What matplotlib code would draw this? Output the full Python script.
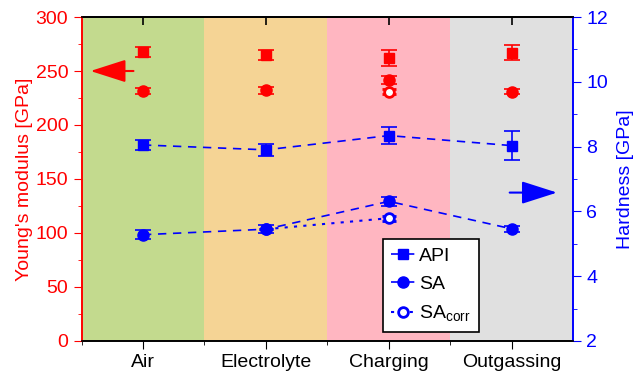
import numpy as np
import matplotlib
matplotlib.use("Agg")
from matplotlib import pyplot as plt
from matplotlib.ticker import MultipleLocator

plt.rcParams['font.family'] = ['Liberation Sans', 'DejaVu Sans']
plt.rcParams['mathtext.fontset'] = 'custom'
plt.rcParams['mathtext.rm'] = 'Liberation Sans'

stages = ["Air", "Electrolyte", "Charging", "Outgassing"]
stage_colors = ["#c3da8e", "#f5d495", "#ffb6c1", "#e0e0e0"]

# Young's modulus [GPa]
E_api = [268, 265, 262, 267]
E_api_err = [4.6, 4.6, 7.5, 7.0]
E_sa = [231.5, 232, 241.5, 231]
E_sa_err = [2.7, 3.0, 4.0, 2.7]
E_corr = [np.nan, np.nan, 231, np.nan]
E_corr_err = [0, 0, 2, 0]

# Hardness [GPa]
H_api = [8.05, 7.9, 8.34, 8.03]
H_api_err = [0.14, 0.18, 0.26, 0.44]
H_sa = [5.28, 5.45, 6.31, 5.46]
H_sa_err = [0.14, 0.12, 0.13, 0.10]
H_corr = [np.nan, 5.45, 5.79, np.nan]
H_corr_err = [0, 0, 0.08, 0]

x = np.arange(1, len(stages) + 1)
red = "#ff0000"
blue = "#0000ff"

fig = plt.figure(figsize=(6.37, 3.78), dpi=100)
ax = fig.add_axes([0.128, 0.098, 0.772, 0.857])
ax2 = ax.twinx()

# shaded background for each stage
for i, c in enumerate(stage_colors):
    ax.axvspan(x[i] - 0.5, x[i] + 0.5, color=c, lw=0, zorder=0)

ax.errorbar(x, E_corr, yerr=E_corr_err, fmt='o', color=red, mfc='white',
            mec=red, mew=2, ms=7, capsize=5, elinewidth=1.2, zorder=2)
ax.errorbar(x, E_api, yerr=E_api_err, fmt='s', color=red, ms=7.5,
            capsize=6, elinewidth=1.2, capthick=1.2, zorder=3)
ax.errorbar(x, E_sa, yerr=E_sa_err, fmt='o', color=red, ms=8,
            capsize=6, elinewidth=1.2, capthick=1.2, zorder=3)

corr = ax2.errorbar(x, H_corr, yerr=H_corr_err, fmt='o', ls=(0, (1.5, 3)), lw=1.5,
                    color=blue, mfc='white', mec=blue, mew=2, ms=7,
                    capsize=5, elinewidth=1.2, zorder=1)
api = ax2.errorbar(x, H_api, yerr=H_api_err, fmt='s', ls=(0, (5, 4)), lw=1.2,
                   color=blue, ms=7.5, capsize=6, elinewidth=1.2, capthick=1.2,
                   zorder=2)
sa = ax2.errorbar(x, H_sa, yerr=H_sa_err, fmt='o', ls=(0, (5, 4)), lw=1.2,
                  color=blue, ms=8, capsize=6, elinewidth=1.2, capthick=1.2,
                  zorder=2)

# arrows pointing to the matching axis
ax.annotate("", xy=(0.55, 250), xytext=(0.945, 250),
            arrowprops=dict(arrowstyle="-|>,head_length=1.0,head_width=0.32",
                            color=red, lw=1.5, mutation_scale=22))
ax2.annotate("", xy=(4.39, 6.58), xytext=(3.96, 6.58),
             arrowprops=dict(arrowstyle="-|>,head_length=1.0,head_width=0.32",
                             color=blue, lw=1.5, mutation_scale=22))

ax.set_xlim(0.5, 4.5)
ax.set_ylim(0, 300)
ax2.set_ylim(2, 12)

ax.set_xticks(x)
ax.set_xticklabels(stages, fontsize=14)
ax.set_xticks(x - 0.5, minor=True)
ax.tick_params(axis='x', which='major', direction='out', length=6)
ax.tick_params(axis='x', which='minor', direction='out', length=3)

# inward ticks along the top edge
top = ax.secondary_xaxis('top')
top.set_xticks(x)
top.set_xticklabels([])
top.tick_params(direction='in', length=6, width=1.2)
top.spines['top'].set_linewidth(1.2)

ax.yaxis.set_major_locator(MultipleLocator(50))
ax.yaxis.set_minor_locator(MultipleLocator(25))
ax.tick_params(axis='y', which='both', colors=red, labelsize=14)
ax.tick_params(axis='y', which='major', length=6)
ax.tick_params(axis='y', which='minor', length=3)
ax.set_ylabel("Young's modulus [GPa]", color=red, fontsize=14, labelpad=2)

ax2.yaxis.set_major_locator(MultipleLocator(2))
ax2.yaxis.set_minor_locator(MultipleLocator(1))
ax2.tick_params(axis='y', which='both', colors=blue, labelsize=14)
ax2.tick_params(axis='y', which='major', length=6)
ax2.tick_params(axis='y', which='minor', length=3)
ax2.set_ylabel("Hardness [GPa]", color=blue, fontsize=14, labelpad=6)

for a in (ax, ax2):
    a.spines['left'].set_color(red)
    a.spines['right'].set_color(blue)
    for s in a.spines.values():
        s.set_linewidth(1.2)

leg = ax2.legend([api[0], sa[0], corr[0]], ["API", "SA", r"SA$_{\mathrm{corr}}$"],
                 loc='lower left', bbox_to_anchor=(0.614, 0.028), borderaxespad=0,
                 fontsize=14, numpoints=1, handlelength=1.2, handletextpad=0.25,
                 borderpad=0.4, labelspacing=0.55, fancybox=False,
                 edgecolor='black', framealpha=1)
leg.get_frame().set_linewidth(1.2)

fig.savefig("out.png", dpi=100)
